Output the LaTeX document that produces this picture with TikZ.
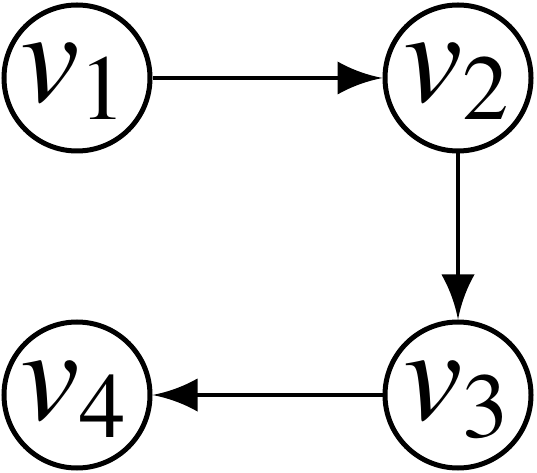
\documentclass[tikz,border=0pt]{standalone}
\usepackage{fontspec}
\newfontfamily\tnr{texgyretermes}[Extension=.otf, UprightFont=*-regular, ItalicFont=*-italic]
\usetikzlibrary{arrows.meta}
\pgfdeclarearrow{
  name=Cv,
  setup code={\pgfarrowssettipend{0pt}\pgfarrowssetlineend{-30bp}\pgfarrowsupperhullpoint{-45bp}{16.5bp}\pgfarrowsupperhullpoint{0pt}{0pt}},
  drawing code={
    \pgfpathmoveto{\pgfpointorigin}
    \pgfpathcurveto{\pgfpoint{-16bp}{3bp}}{\pgfpoint{-32bp}{9bp}}{\pgfpoint{-45bp}{16.5bp}}
    \pgfpathlineto{\pgfpoint{-45bp}{-16.5bp}}
    \pgfpathcurveto{\pgfpoint{-32bp}{-9bp}}{\pgfpoint{-16bp}{-3bp}}{\pgfpointorigin}
    \pgfpathclose
    \pgfusepathqfill
  }
}
\newcommand{\vlab}[1]{\raisebox{0pt}[64bp][20bp]{{\tnr\fontsize{134}{134}\selectfont\itshape v}\raisebox{-18bp}{\tnr\fontsize{93}{93}\selectfont #1}}}
\tikzset{
  vtx/.style={circle, draw, line width=5bp, minimum size=146bp, inner sep=0pt},
  lbl/.style={inner sep=0pt, anchor=base},
  edge/.style={line width=3.8bp, -Cv}
}
\begin{document}
\begin{tikzpicture}[x=1bp,y=-1bp]
\useasboundingbox (0,0) rectangle (537,473);
\node[vtx] (v1) at (77,78) {};
\node[vtx] (v2) at (458,78) {};
\node[vtx] (v3) at (458,395) {};
\node[vtx] (v4) at (77,395) {};
\node[lbl] (t1) at ([xshift=-4bp,yshift=-24bp]v1.center) {\vlab{1}};
\node[lbl] (t2) at ([xshift=-2bp,yshift=-24bp]v2.center) {\vlab{2}};
\node[lbl] (t3) at ([xshift=-2bp,yshift=-24bp]v3.center) {\vlab{3}};
\node[lbl] (t4) at ([xshift=-4bp,yshift=-24bp]v4.center) {\vlab{4}};
\draw[edge] (v1) -- (v2);
\draw[edge] (v2) -- (v3);
\draw[edge] (v3) -- (v4);
\end{tikzpicture}
\end{document}
